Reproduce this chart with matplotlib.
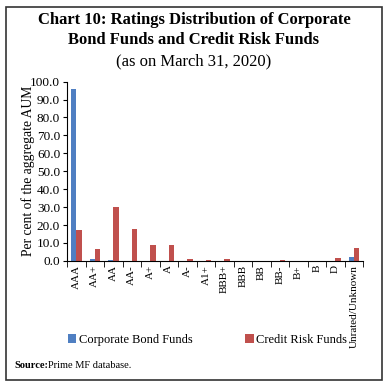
import numpy as np
import matplotlib.pyplot as plt
from matplotlib.patches import Rectangle

plt.rcParams['font.family'] = ['Liberation Serif', 'DejaVu Serif']

ratings = ["AAA", "AA+", "AA", "AA-", "A+", "A", "A-", "A1+", "BBB+", "BBB",
           "BB", "BB-", "B+", "B", "D", "Unrated/Unknown"]
corp_bond = [95.8, 1.3, 0.3, 0.0, 0.0, 0.0, 0.0, 0.0, 0.0, 0.0,
             0.0, 0.0, 0.0, 0.0, 0.0, 2.4]
credit_risk = [17.3, 6.7, 29.9, 17.6, 9.0, 9.1, 1.0, 0.5, 1.0, 0.0,
               0.0, 0.2, 0.0, 0.0, 1.6, 7.1]

blue = "#4f7fc2"
red = "#c0504d"

fig = plt.figure(figsize=(3.88, 3.87), dpi=100)
ax = fig.add_axes([0.173, 0.326, 0.763, 0.463])

x = np.arange(len(ratings))
w = 0.28
ax.bar(x - w/2, corp_bond, w, color=blue, label="Corporate Bond Funds")
ax.bar(x + w/2, credit_risk, w, color=red, label="Credit Risk Funds")

ax.set_xlim(-0.5, len(ratings) - 0.5)
ax.set_ylim(0, 100)
ax.set_yticks(np.arange(0, 101, 10))
ax.set_yticklabels([f"{v:.1f}" for v in np.arange(0, 101, 10)], fontsize=9.5)
ax.set_xticks(x)
ax.set_xticklabels(ratings, rotation=90, fontsize=8)
ax.set_xticks(np.arange(-0.5, len(ratings)), minor=True)
ax.tick_params(axis='x', which='major', length=0, pad=3)
ax.tick_params(axis='x', which='minor', length=4, direction='out')
ax.tick_params(axis='y', length=3, pad=2)
ax.spines['top'].set_visible(False)
ax.spines['right'].set_visible(False)
ax.set_ylabel("Per cent of the aggregate AUM", fontsize=9.8)
ax.yaxis.set_label_coords(-0.11, 0.5)

fig.text(0.5, 0.968, "Chart 10: Ratings Distribution of Corporate\nBond Funds and Credit Risk Funds",
         ha='center', va='top', fontsize=12, fontweight='bold', linespacing=1.3)
fig.text(0.5, 0.862, "(as on March 31, 2020)", ha='center', va='top', fontsize=12)

fig.legend(loc='center', bbox_to_anchor=(0.535, 0.122), ncol=2, frameon=False,
           fontsize=9, handlelength=0.7, handleheight=0.7, handletextpad=0.2,
           columnspacing=4.2)

fig.text(0.037, 0.055, "Source:", fontsize=7.5, fontweight='bold', va='center')
fig.text(0.124, 0.055, "Prime MF database.", fontsize=7.5, va='center')

fig.patches.append(Rectangle((0.016, 0.018), 0.969, 0.965, transform=fig.transFigure,
                             fill=False, edgecolor='#333333', linewidth=1.2))

fig.savefig("out.png", dpi=100)
